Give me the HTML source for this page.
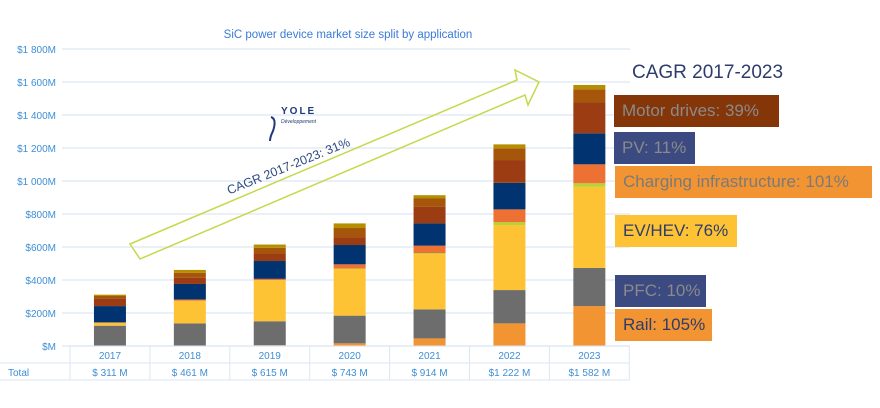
<!DOCTYPE html>
<html><head><meta charset="utf-8"><style>
body{margin:0;background:#fff;width:880px;height:408px;overflow:hidden;font-family:"Liberation Sans",sans-serif}
.box{position:absolute;height:32px;line-height:32px;font-size:17px;padding-left:8px;box-sizing:border-box;white-space:nowrap}
</style></head><body>
<svg width="880" height="408" style="position:absolute;left:0;top:0">
<g id="grid"></g>
<g id="bars"></g>
<g id="table"></g>
<text x="348" y="38" text-anchor="middle" font-size="11.5" fill="#3a7bd5">SiC power device market size split by application</text>
<polygon points="130,244 517,80 515,70 539,82 528,105 525,95 140,259" fill="none" stroke="#c5d94a" stroke-width="1.5"/>
<text x="0" y="0" transform="translate(290,170) rotate(-22)" text-anchor="middle" font-size="12.5" fill="#2e4a80">CAGR 2017-2023: 31%</text>
<g>
<path d="M271,117 q6,2 2,14 q-3,6 -3,10" stroke="#1f3a7a" stroke-width="2" fill="none"/>
<text x="281" y="114" font-size="10" font-weight="bold" fill="#1f3a7a" letter-spacing="2">YOLE</text>
<text x="281" y="123" font-size="5" font-style="italic" fill="#1f3a7a">Développement</text>
</g>
</svg>
<div style="position:absolute;left:632px;top:62px;font-size:19px;color:#2e3c6b">CAGR 2017-2023</div>
<div class="box" style="left:614px;top:95px;width:165px;background:#843609;color:#8a8a8a">Motor drives: 39%</div>
<div class="box" style="left:614px;top:132px;width:81px;background:#3b4a80;color:#8a8a8a">PV: 11%</div>
<div class="box" style="left:615px;top:166px;width:257px;background:#f39433;color:#7a7a7a">Charging infrastructure: 101%</div>
<div class="box" style="left:615px;top:215px;width:122px;background:#fec235;color:#2e3c6b">EV/HEV: 76%</div>
<div class="box" style="left:615px;top:275px;width:91px;background:#3b4a80;color:#8a8a8a">PFC: 10%</div>
<div class="box" style="left:615px;top:309px;width:97px;background:#f39433;color:#2e3c6b">Rail: 105%</div>
<script>
const years=["2017","2018","2019","2020","2021","2022","2023"];
const totals=["$ 311 M","$ 461 M","$ 615 M","$ 743 M","$ 914 M","$1 222 M","$1 582 M"];
const rail=[0,0,5,16,46,137,242];
const pfc=[123,137,145,168,176,202,231];
const ev=[18,138,250,283,335,394,492];
const green=[0,0,0,3,6,17,21];
const charging=[2,7,7,25,45,78,115];
const pv=[99,94,108,117,135,161,188];
const motor=[47,38,46,48,100,138,187];
const other=[14,30,34,55,51,71,80];
const topseg=[8,17,20,28,20,24,26];
const yTicks=[0,200,400,600,800,1000,1200,1400,1600,1800];
const yTickLabels=["$M","$200M","$400M","$600M","$800M","$1 000M","$1 200M","$1 400M","$1 600M","$1 800M"];
const series=[rail,pfc,ev,green,charging,pv,motor,other,topseg];
const seriesNames=["rail","pfc","ev-hev","green","charging","pv","motor-drives","other","top"];
const colors=["#f39433","#6d6d6d","#fec235","#b5d334","#ed7132","#013370","#9c3c13","#a6560b","#b58f00"];
const NS="http://www.w3.org/2000/svg";
const y0=346,pxPerM=297/1800,x0=70,colW=79.9,barW=32;
const Y=v=>y0-v*pxPerM;
const X=i=>x0+colW*(i+0.5);
function mk(tag,attrs,parent){const e=document.createElementNS(NS,tag);for(const k in attrs)e.setAttribute(k,attrs[k]);parent.appendChild(e);return e;}
const grid=document.getElementById('grid'),bars=document.getElementById('bars'),table=document.getElementById('table');
yTicks.forEach((t,i)=>{
 const l=mk('line',{x1:62,x2:630,y1:Y(t),y2:Y(t),stroke:'#e3ecf8','stroke-width':1.5},grid);
 
 
 const tx=mk('text',{x:56,y:Y(t)+4,'text-anchor':'end','font-size':10,fill:'#3d8fd6'},grid);
 tx.textContent=yTickLabels[i];
 
 
});
years.forEach((yr,i)=>{
 let acc=0;
 series.forEach((s,k)=>{
  const v=s[i];if(v<=0){return;}
  const r=mk('rect',{x:X(i)-barW/2,y:Y(acc+v),width:barW,height:v*pxPerM,fill:colors[k]},bars);
  
  
  acc+=v;
 });
 const a=mk('text',{x:X(i),y:359,'text-anchor':'middle','font-size':10,fill:'#3d8fd6'},table);
 a.textContent=yr;
 
 
 const b=mk('text',{x:X(i),y:376,'text-anchor':'middle','font-size':10,fill:'#3d8fd6'},table);
 b.textContent=totals[i];
 
 
});
const tl=mk('text',{x:8,y:376,'font-size':10,fill:'#3d8fd6'},table);
tl.textContent='Total';


[346,363,380].forEach(y=>{mk('line',{x1:y==346?x0:0,x2:x0+colW*7,y1:y,y2:y,stroke:'#dbe6f5'},table);});
for(let i=0;i<=7;i++){mk('line',{x1:x0+colW*i,x2:x0+colW*i,y1:346,y2:380,stroke:'#dbe6f5'},table);}
</script>
</body></html>
